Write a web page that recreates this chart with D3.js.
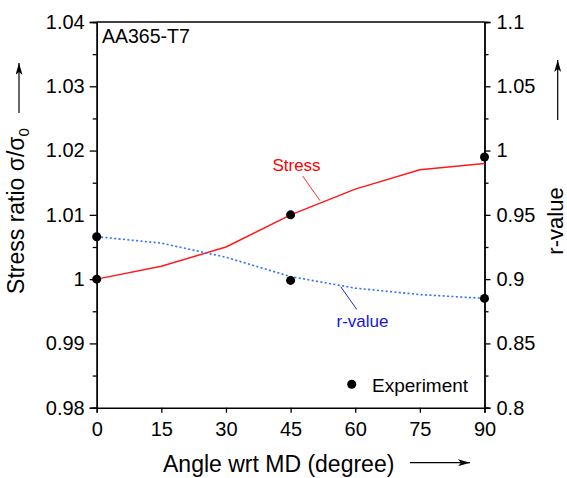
<!DOCTYPE html>
<html>
<head>
<meta charset="utf-8">
<script src="https://cdn.jsdelivr.net/npm/d3@7"></script>
<style>
  html, body { margin: 0; padding: 0; background: #fff; }
  svg { display: block; font-family: "Liberation Sans", Arial, sans-serif; }
</style>
</head>
<body>
<svg id="chart" width="567" height="478"></svg>
<script>
// Angles with respect to the rolling direction (degrees)
const angles = [0, 15, 30, 45, 60, 75, 90];
// Predicted stress ratio sigma/sigma0 (left axis)
const stressRatio = [1.000, 1.002, 1.005, 1.010, 1.014, 1.017, 1.018];
// Predicted r-value (right axis)
const rValue = [0.933, 0.928, 0.917, 0.902, 0.893, 0.888, 0.885];
// Experimental points
const expAngles = [0, 45, 90];
const expStress = [1.000, 1.010, 1.019];
const expR = [0.933, 0.899, 0.885];

// Tick values and labels
const xTicks = [0, 15, 30, 45, 60, 75, 90];
const leftTicks = [0.98, 0.99, 1.00, 1.01, 1.02, 1.03, 1.04];
const leftLabels = ["0.98", "0.99", "1", "1.01", "1.02", "1.03", "1.04"];
const leftMinor = [0.985, 0.995, 1.005, 1.015, 1.025, 1.035];
const rightTicks = [0.80, 0.85, 0.90, 0.95, 1.00, 1.05, 1.10];
const rightLabels = ["0.8", "0.85", "0.9", "0.95", "1", "1.05", "1.1"];
const rightMinor = [0.825, 0.875, 0.925, 0.975, 1.025, 1.075];

const svg = d3.select("#chart");
const L = 96.7, R = 484.5, T = 22, B = 407.7;

const x = d3.scaleLinear().domain([0, 90]).range([L, R]);
const yL = d3.scaleLinear().domain([0.98, 1.04]).range([B, T]);
const yR = d3.scaleLinear().domain([0.8, 1.1]).range([B, T]);

const axisStyle = g => {
  g.selectAll(".domain").attr("stroke", "#000").attr("stroke-width", 1.4);
  g.selectAll(".tick line").attr("stroke", "#000").attr("stroke-width", 1.3);
  g.selectAll(".tick text").attr("fill", "#000").attr("font-size", 20)
    .attr("font-family", "Liberation Sans, Arial, sans-serif");
};

// Frame top line
svg.append("line").attr("x1", L).attr("x2", R).attr("y1", T).attr("y2", T)
  .attr("stroke", "#000").attr("stroke-width", 1.4);

// Left axis (major + minor)
svg.append("g").attr("transform", `translate(${L},0)`)
  .call(d3.axisLeft(yL).tickValues(leftMinor).tickSize(4).tickFormat(""))
  .call(axisStyle);
svg.append("g").attr("transform", `translate(${L},0)`)
  .call(d3.axisLeft(yL).tickValues(leftTicks).tickSize(7).tickPadding(5)
    .tickFormat((d, i) => leftLabels[i]))
  .call(axisStyle);

// Right axis (major + minor)
svg.append("g").attr("transform", `translate(${R},0)`)
  .call(d3.axisRight(yR).tickValues(rightMinor).tickSize(4).tickFormat(""))
  .call(axisStyle);
svg.append("g").attr("transform", `translate(${R},0)`)
  .call(d3.axisRight(yR).tickValues(rightTicks).tickSize(6).tickPadding(6)
    .tickFormat((d, i) => rightLabels[i]))
  .call(axisStyle);

// Bottom axis
svg.append("g").attr("transform", `translate(0,${B})`)
  .call(d3.axisBottom(x).tickValues(xTicks).tickSize(5).tickPadding(9)
    .tickFormat(d3.format("d")))
  .call(axisStyle);

// Stress curve
svg.append("path")
  .datum(angles.map((a, i) => [a, stressRatio[i]]))
  .attr("fill", "none").attr("stroke", "#ff1a1a").attr("stroke-width", 1.5)
  .attr("d", d3.line().x(d => x(d[0])).y(d => yL(d[1])));

// r-value curve (dotted)
svg.append("path")
  .datum(angles.map((a, i) => [a, rValue[i]]))
  .attr("fill", "none").attr("stroke", "#2f6fff").attr("stroke-width", 1.6)
  .attr("stroke-dasharray", "2,2.4")
  .attr("d", d3.line().x(d => x(d[0])).y(d => yR(d[1])));

// Experimental points
svg.append("g").selectAll("circle.s").data(expAngles).join("circle")
  .attr("cx", (d) => x(d)).attr("cy", (d, i) => yL(expStress[i]))
  .attr("r", 4.5).attr("fill", "#000");
svg.append("g").selectAll("circle.r").data(expAngles).join("circle")
  .attr("cx", (d) => x(d)).attr("cy", (d, i) => yR(expR[i]))
  .attr("r", 4.5).attr("fill", "#000");

// Curve labels with leader lines
svg.append("line").attr("x1", 302.7).attr("y1", 176).attr("x2", 320).attr("y2", 200.7)
  .attr("stroke", "#ff3030").attr("stroke-width", 1);
svg.append("text").attr("x", 296.5).attr("y", 170.5).attr("text-anchor", "middle")
  .attr("font-size", 17).attr("fill", "#ff0000").text("Stress");

svg.append("line").attr("x1", 340.7).attr("y1", 286.7).attr("x2", 356.7).attr("y2", 309.3)
  .attr("stroke", "#2a2ac0").attr("stroke-width", 1);
svg.append("text").attr("x", 362.5).attr("y", 326.5).attr("text-anchor", "middle")
  .attr("font-size", 17).attr("fill", "#1414e0").text("r-value");

// Material label
svg.append("text").attr("x", 102).attr("y", 43.3)
  .attr("font-size", 19.5).attr("fill", "#000").text("AA365-T7");

// Legend
svg.append("circle").attr("cx", 351.7).attr("cy", 384.3).attr("r", 4.5).attr("fill", "#000");
svg.append("text").attr("x", 372).attr("y", 392).attr("font-size", 19)
  .attr("fill", "#000").text("Experiment");

// Arrow marker
svg.append("defs").append("marker")
  .attr("id", "arrow").attr("viewBox", "0 0 12 7").attr("refX", 12).attr("refY", 3.5)
  .attr("markerWidth", 12).attr("markerHeight", 7).attr("markerUnits", "userSpaceOnUse")
  .attr("orient", "auto")
  .append("path").attr("d", "M0,0 L12,3.5 L0,7 L3,3.5 Z").attr("fill", "#000");

// Axis titles
svg.append("text").attr("x", 163).attr("y", 471.5).attr("font-size", 23)
  .attr("fill", "#000").text("Angle wrt MD (degree)");
svg.append("line").attr("x1", 410).attr("x2", 470).attr("y1", 462.7).attr("y2", 462.7)
  .attr("stroke", "#000").attr("stroke-width", 1.2).attr("marker-end", "url(#arrow)");

const lt = svg.append("text").attr("transform", "translate(24,211) rotate(-90)")
  .attr("text-anchor", "middle").attr("font-size", 23).attr("fill", "#000");
lt.append("tspan").text("Stress ratio σ/σ");
lt.append("tspan").attr("font-size", 15).attr("dy", 5).text("0");
svg.append("line").attr("x1", 19).attr("x2", 19).attr("y1", 113).attr("y2", 63)
  .attr("stroke", "#000").attr("stroke-width", 1.2).attr("marker-end", "url(#arrow)");

svg.append("text").attr("transform", "translate(563,221) rotate(-90)")
  .attr("text-anchor", "middle").attr("font-size", 22).attr("fill", "#000").text("r-value");
svg.append("line").attr("x1", 557.7).attr("x2", 557.7).attr("y1", 120).attr("y2", 60)
  .attr("stroke", "#000").attr("stroke-width", 1.2).attr("marker-end", "url(#arrow)");
</script>
</body>
</html>
